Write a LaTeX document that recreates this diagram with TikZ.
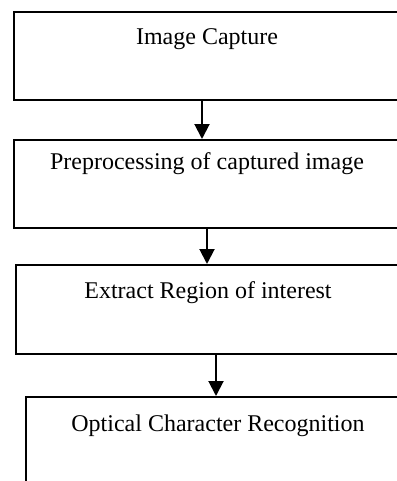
\documentclass[tikz,border=0pt]{standalone}
\usepackage{fontspec}
\setmainfont{Liberation Serif}
\usepackage{tikz}
\usetikzlibrary{positioning}
\usetikzlibrary{arrows.meta}

\begin{document}
\begin{tikzpicture}[>={Triangle[length=7.5pt,width=7.5pt]},
  stage/.style={draw,line width=1pt,inner ysep=0pt,align=center,anchor=north west,
    font=\fontsize{12pt}{14pt}\selectfont}]

\useasboundingbox (0,0) rectangle (198pt,-240.5pt);

\node[stage,minimum width=193pt,text height=16.5pt,text depth=27.5pt] (capture) at (6.5pt,-5.5pt) {Image Capture};

\node[stage,minimum width=193pt,text height=14.5pt,text depth=29.5pt] (preproc) at (6.5pt,-69.5pt) {Preprocessing of captured image};

\node[stage,minimum width=192.5pt,text height=16.5pt,text depth=28pt] (extract) at (7.25pt,-132pt) {Extract Region of interest};

\node[stage,minimum width=192pt,text height=17pt,text depth=40pt] (ocr) at (12.5pt,-198pt) {Optical Character Recognition};


\draw[->,line width=1pt] (capture.south -| 101pt,0) to (preproc.north -| 101pt,0);
\draw[->,line width=1pt] (preproc.south -| 103.5pt,0) to (extract.north -| 103.5pt,0);
\draw[->,line width=1pt] (extract.south -| 108pt,0) to (ocr.north -| 108pt,0);

\end{tikzpicture}
\end{document}
